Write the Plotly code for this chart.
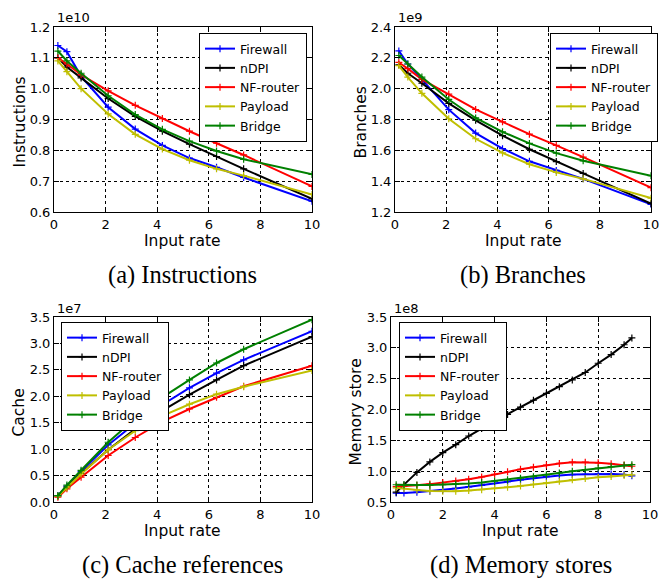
import plotly.graph_objects as go

# ---------------- data ----------------
series_names = ["Firewall", "nDPI", "NF-router", "Payload", "Bridge"]
series_colors = ["#0000ff", "#000000", "#ff0000", "#bfbf00", "#008000"]

x_rate = [0.15, 0.5, 1.05, 2.1, 3.15, 4.2, 5.25, 6.3, 7.35, 10]

# (a) Instructions, x1e10
instr_firewall = [1.14, 1.12, 1.04, 0.94, 0.869, 0.816, 0.775, 0.745, 0.712, 0.635]
instr_ndpi = [1.10, 1.07, 1.035, 0.968, 0.91, 0.862, 0.82, 0.78, 0.74, 0.643]
instr_nfrouter = [1.10, 1.08, 1.045, 0.993, 0.946, 0.903, 0.862, 0.823, 0.785, 0.683]
instr_payload = [1.09, 1.055, 1.00, 0.918, 0.852, 0.804, 0.768, 0.74, 0.718, 0.657]
instr_bridge = [1.122, 1.09, 1.05, 0.977, 0.916, 0.868, 0.83, 0.798, 0.771, 0.722]

# (b) Branches, x1e9
br_firewall = [2.245, 2.16, 2.06, 1.864, 1.712, 1.611, 1.529, 1.47, 1.415, 1.25]
br_ndpi = [2.155, 2.10, 2.035, 1.905, 1.795, 1.695, 1.607, 1.527, 1.45, 1.255]
br_nfrouter = [2.17, 2.13, 2.06, 1.965, 1.865, 1.785, 1.705, 1.632, 1.556, 1.358]
br_payload = [2.15, 2.075, 1.97, 1.805, 1.675, 1.583, 1.51, 1.457, 1.415, 1.29]
br_bridge = [2.215, 2.16, 2.075, 1.93, 1.81, 1.72, 1.645, 1.582, 1.532, 1.435]

# (c) Cache references, x1e7
cache_firewall = [0.12, 0.30, 0.58, 1.08, 1.49, 1.84, 2.16, 2.44, 2.69, 3.23]
cache_ndpi = [0.11, 0.28, 0.54, 0.99, 1.38, 1.73, 2.03, 2.31, 2.58, 3.13]
cache_nfrouter = [0.09, 0.25, 0.47, 0.88, 1.22, 1.52, 1.76, 1.98, 2.19, 2.58]
cache_payload = [0.11, 0.27, 0.53, 0.99, 1.35, 1.63, 1.85, 2.04, 2.18, 2.49]
cache_bridge = [0.12, 0.32, 0.60, 1.13, 1.58, 1.98, 2.31, 2.63, 2.89, 3.45]

# (d) Memory stores, x1e8
x_mem = [0.2, 0.5, 1.0, 1.5, 2.0, 2.5, 3.0, 3.5, 4.0, 4.5, 5.0, 5.5, 6.0, 6.5, 7.0, 7.5, 8.0, 8.5, 9.0, 9.3]
mem_firewall = [0.645, 0.645, 0.66, 0.675, 0.70, 0.72, 0.745, 0.77, 0.80, 0.83, 0.86, 0.885, 0.91, 0.93, 0.945, 0.95, 0.955, 0.955, 0.945, 0.925]
mem_ndpi = [0.66, 0.78, 0.98, 1.15, 1.30, 1.43, 1.57, 1.69, 1.81, 1.92, 2.04, 2.15, 2.26, 2.37, 2.48, 2.60, 2.75, 2.89, 3.05, 3.16]
mem_nfrouter = [0.75, 0.755, 0.77, 0.79, 0.815, 0.84, 0.87, 0.905, 0.95, 0.99, 1.03, 1.065, 1.10, 1.125, 1.145, 1.145, 1.135, 1.12, 1.10, 1.08]
mem_payload = [0.73, 0.715, 0.695, 0.68, 0.675, 0.675, 0.685, 0.70, 0.72, 0.74, 0.76, 0.785, 0.81, 0.835, 0.86, 0.88, 0.90, 0.915, 0.93, 0.94]
mem_bridge = [0.78, 0.775, 0.775, 0.775, 0.78, 0.79, 0.80, 0.815, 0.84, 0.86, 0.885, 0.91, 0.94, 0.97, 1.00, 1.025, 1.05, 1.075, 1.095, 1.105]

x_ticks = [0, 2, 4, 6, 8, 10]
panel_captions = ["(a) Instructions", "(b) Branches", "(c) Cache references", "(d) Memory stores"]
panel_ytitles = ["Instructions", "Branches", "Cache", "Memory store"]
panel_exponents = ["1e10", "1e9", "1e7", "1e8"]
panel_yranges = [[0.6, 1.2], [1.2, 2.4], [0.0, 3.5], [0.5, 3.5]]
panel_ydticks = [0.1, 0.2, 0.5, 0.5]

panels = [
    (x_rate, [instr_firewall, instr_ndpi, instr_nfrouter, instr_payload, instr_bridge]),
    (x_rate, [br_firewall, br_ndpi, br_nfrouter, br_payload, br_bridge]),
    (x_rate, [cache_firewall, cache_ndpi, cache_nfrouter, cache_payload, cache_bridge]),
    (x_mem, [mem_firewall, mem_ndpi, mem_nfrouter, mem_payload, mem_bridge]),
]

# ---------------- layout geometry (pixels) ----------------
W, H = 672, 580
# (left, right, top, bottom) plot areas
boxes = [(54, 312, 27, 212), (395, 651, 27, 212), (54, 312, 317, 502), (391, 650, 317, 502)]
legend_pos = [(199, 33), (550, 33), (61, 322), (399, 322)]

FONT = "DejaVu Sans"
fig = go.Figure()
layout = dict(
    width=W, height=H,
    margin=dict(l=0, r=0, t=0, b=0, autoexpand=False),
    paper_bgcolor="white", plot_bgcolor="white",
    font=dict(family=FONT, size=13, color="black"),
    annotations=[],
)

for i, (xs, ys_list) in enumerate(panels):
    n = "" if i == 0 else str(i + 1)
    legend_id = "legend" if i == 0 else f"legend{i + 1}"
    for name, color, ys in zip(series_names, series_colors, ys_list):
        fig.add_trace(go.Scatter(
            x=xs, y=ys, name=name, mode="lines+markers",
            line=dict(color=color, width=2),
            marker=dict(symbol="cross-thin", size=5, line=dict(color=color, width=1.2)),
            xaxis="x" + n, yaxis="y" + n, legend=legend_id,
        ))
    l, r, t, b = boxes[i]
    axis_common = dict(
        showline=True, linecolor="black", linewidth=1, mirror="allticks",
        ticks="inside", ticklen=5, tickcolor="black", tickwidth=1,
        showgrid=True, gridcolor="black", gridwidth=1, griddash="dot",
        zeroline=False, automargin=False,
        tickfont=dict(family=FONT, size=13, color="black"),
    )
    layout["xaxis" + n] = dict(
        axis_common, domain=[l / W, r / W], range=[0, 10],
        tickvals=x_ticks, anchor="y" + n,
    )
    layout["yaxis" + n] = dict(
        axis_common, domain=[1 - b / H, 1 - t / H], range=panel_yranges[i],
        dtick=panel_ydticks[i], tick0=0, tickformat=".1f", anchor="x" + n,
    )
    lx, ly = legend_pos[i]
    layout[legend_id] = dict(
        x=lx / W, y=1 - ly / H, xanchor="left", yanchor="top",
        bordercolor="black", borderwidth=1, bgcolor="white",
        font=dict(family=FONT, size=12.5, color="black"),
        itemwidth=30, tracegroupgap=0,
    )
    cx = (l + r) / 2
    anns = layout["annotations"]
    anns.append(dict(text="Input rate", x=cx / W, y=1 - (b + 29) / H, xref="paper", yref="paper",
                     xanchor="center", yanchor="middle", showarrow=False,
                     font=dict(family=FONT, size=15.5, color="black")))
    anns.append(dict(text=panel_ytitles[i], x=(l - 35) / W, y=1 - ((t + b) / 2 + 3) / H,
                     xref="paper", yref="paper", xanchor="center", yanchor="middle",
                     textangle=-90, showarrow=False,
                     font=dict(family=FONT, size=15.5, color="black")))
    anns.append(dict(text=panel_exponents[i], x=(l + 1) / W, y=1 - (t - 9) / H,
                     xref="paper", yref="paper", xanchor="left", yanchor="middle",
                     showarrow=False, font=dict(family=FONT, size=13, color="black")))
    anns.append(dict(text=panel_captions[i], x=cx / W, y=1 - (b + 63) / H,
                     xref="paper", yref="paper", xanchor="center", yanchor="middle",
                     showarrow=False, font=dict(family="Liberation Serif", size=24.5, color="black")))

fig.update_layout(**layout)
fig.write_html("out.html", config={"displayModeBar": False},
               post_script="document.body.style.margin='0px';")
